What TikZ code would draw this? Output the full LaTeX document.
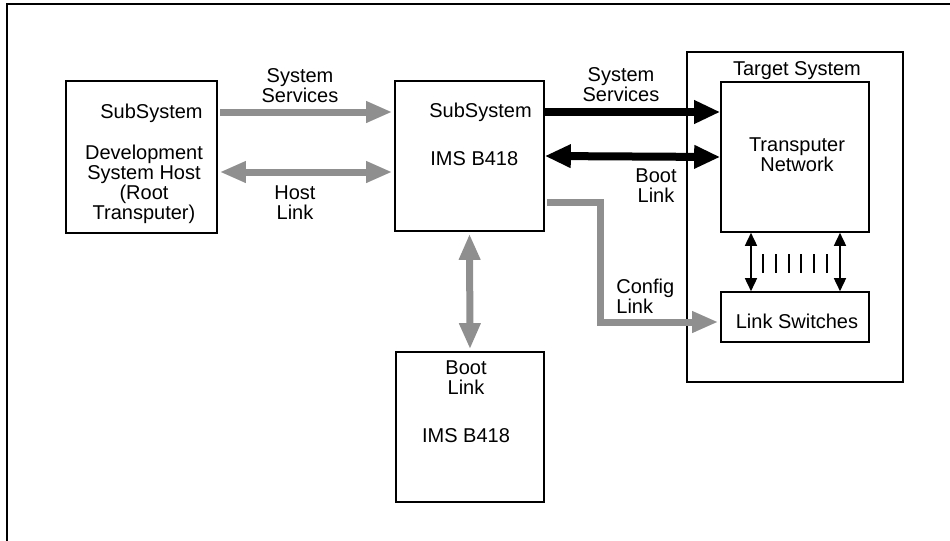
\documentclass[tikz,border=0pt]{standalone}
\usepackage{fontspec}
\setmainfont{Liberation Sans}
\usepackage{tikz}
\usetikzlibrary{arrows.meta}
\definecolor{bootGrey}{HTML}{8F8F8F}

\begin{document}
\begin{tikzpicture}[x=0.5pt,y=-0.5pt,
  box/.style={draw,line width=0.8pt,inner sep=0pt},
  txt/.style={inner sep=0pt,align=center,font=\fontsize{10}{10}\selectfont},
  greylink/.style={bootGrey,line width=3.5pt,shorten >=1pt,shorten <=1pt},
  blacklink/.style={line width=4pt},
  gtip/.tip={Triangle[length=13pt,width=10pt]},
  btip/.tip={Triangle[length=13pt,width=11pt]},
  stip/.tip={Triangle[length=6.5pt,width=6pt]}]
\useasboundingbox (0,0) rectangle (950,541);
\draw[line width=0.8pt] (7,541) -- (7,4) -- (950,4);
\node[box,minimum width=75.5pt,minimum height=76pt] (host) at (141.5,157) {};
\node[box,minimum width=74.5pt,minimum height=75pt] (b418) at (469.5,156) {};
\node[box,minimum width=74pt,minimum height=75pt] (boot) at (470,427) {};
\node[box,minimum width=108pt,minimum height=165pt] (target) at (795,217) {};
\node[box,minimum width=74pt,minimum height=75pt] (tnet) at (795,157) {};
\node[box,minimum width=74pt,minimum height=25pt] (switches) at (795,317) {};
\node[txt,anchor=base east] (hostsub) at (203,118) {SubSystem};
\node[txt,anchor=north] (hostname) at (144,144.5) {Development\\System Host\\(Root\\Transputer)};
\node[txt,anchor=base west] (b418sub) at (429,117) {SubSystem};
\node[txt,anchor=base west] (b418name) at (430,165) {IMS B418};
\node[txt,anchor=north] (bootlink) at (466,360.5) {Boot\\Link};
\node[txt,anchor=base] (bootname) at (466,442) {IMS B418};
\node[txt,anchor=base] (targetname) at (797,75) {Target System};
\node[txt,anchor=north] (tnetname) at (797,137.5) {Transputer\\Network};
\node[txt,anchor=base] (switchname) at (797,328) {Link Switches};
\node[txt,anchor=north] (servgrey) at (300,68.5) {System\\Services};
\node[txt,anchor=north] (hostlink) at (295,185.5) {Host\\Link};
\node[txt,anchor=north] (servblack) at (621,67.5) {System\\Services};
\node[txt,anchor=north] (bootblack) at (656,168.5) {Boot\\Link};
\node[txt,anchor=north west,align=left] (config) at (616,278.5) {Config\\Link};
\draw[greylink,-gtip] ([yshift=22.5pt]host.east) -- ([yshift=22pt]b418.west);
\draw[greylink,gtip-gtip] ([yshift=-7.5pt]host.east) -- ([yshift=-8pt]b418.west);
\draw[greylink,gtip-gtip] (b418.south) -- (boot.north);
\draw[greylink,-gtip] ([yshift=14.5pt]b418.south east) -- ++(56,0) |- ([yshift=-2.5pt]switches.west);
\draw[blacklink,-btip] ([yshift=22pt]b418.east) -- ([yshift=22.5pt]tnet.west);
\draw[blacklink,btip-btip] (b418.east) -- (tnet.west);
\draw[line width=0.8pt,stip-stip] ([xshift=-22pt]tnet.south) -- ([xshift=-22pt]switches.north);
\draw[line width=0.8pt,stip-stip] ([xshift=22.5pt]tnet.south) -- ([xshift=22.5pt]switches.north);
\foreach \tx in {763,776,789,801,814,827}
  \draw[line width=0.9pt] (\tx,254) -- (\tx,273);
\end{tikzpicture}
\end{document}
